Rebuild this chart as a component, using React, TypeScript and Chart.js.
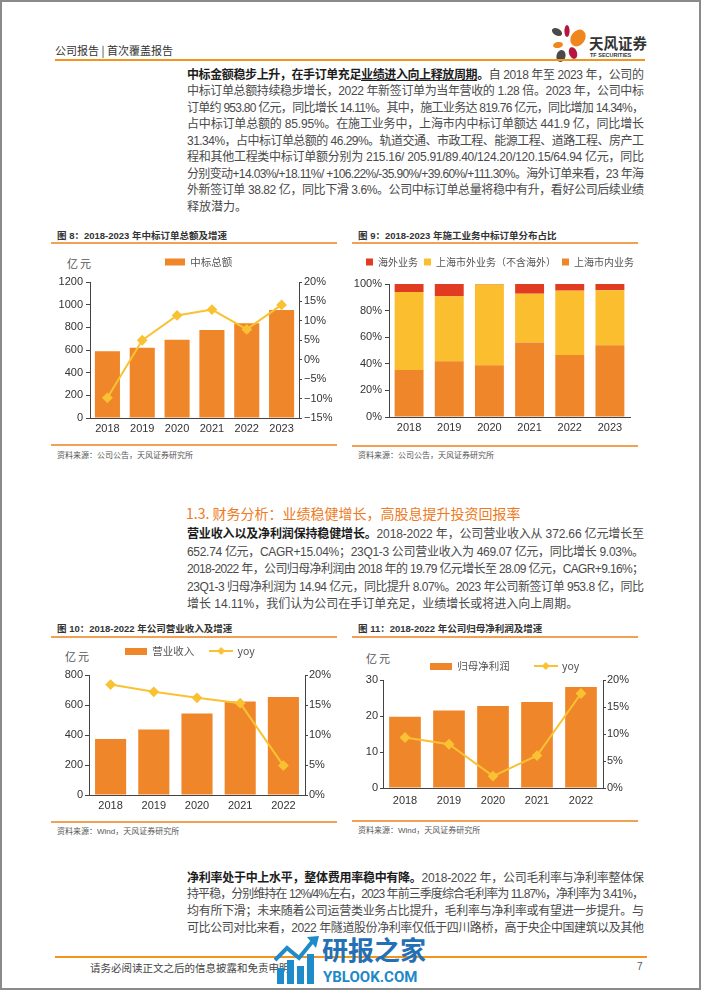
import React, { useEffect, useLayoutEffect, useRef } from 'react';
import { Chart, registerables } from 'chart.js';

Chart.register(...registerables);

// ===== chart data =====
const years6 = ['2018', '2019', '2020', '2021', '2022', '2023'];
const orderTotal = [590, 620, 690, 776, 836, 954];
const orderYoy = [-9.8, 5.0, 11.4, 12.9, 7.8, 14.1];

const innerShare = [35.3, 42.0, 39.0, 56.0, 46.6, 53.9];
const outerShare = [58.7, 48.7, 60.6, 36.7, 48.4, 41.4];
const overseasShare = [6.0, 9.3, 0.4, 7.3, 5.0, 4.7];

const years5 = ['2018', '2019', '2020', '2021', '2022'];
const revenue = [372.66, 437, 543, 624, 652.74];
const revenueYoy = [18.4, 17.2, 16.2, 15.3, 4.9];
const netProfit = [19.79, 21.5, 22.8, 23.9, 28.09];
const netProfitYoy = [9.35, 8.1, 2.2, 6.0, 17.5];

// ===== styles =====
const ORANGE = '#F0862A';
const YELLOW = '#F9C233';
const GOLD = '#FABE2E';
const RED = '#E13C21';
const AXIS = '#444444';
const NUM_FONT = "'Liberation Sans Narrow','Liberation Sans',Arial,sans-serif";
const CJK_FONT = "'Noto Sans CJK SC','Liberation Sans',sans-serif";
const BODY_FONT = "'Liberation Sans Narrow','Liberation Sans','Noto Sans CJK SC',sans-serif";
const TICK_FONT = { family: NUM_FONT, size: 11 };
const LEGEND_FONT = { family: CJK_FONT, size: 10.5 };

const pct = (v: number) => (v < 0 ? '\u2212' + Math.abs(v) : String(v)) + '%';
const plain = (v: number) => String(v);

// plugin: place the legend at a fixed spot without it taking layout space
const legendAt: any = {
  id: 'legendAt',
  beforeLayout(chart: any) {
    const lg = chart.legend;
    if (lg && !lg.__patched) {
      const orig = lg.fit;
      lg.fit = function () {
        orig.call(this);
        this.height = 0;
      };
      lg.__patched = true;
    }
  },
  afterLayout(chart: any, _a: any, opts: any) {
    const lg = chart.legend;
    if (!lg) return;
    const pad = lg.options.labels.padding;
    const fs = opts.fs;
    lg.left = opts.x - pad;
    lg.right = lg.left + 1000;
    lg.width = 1000;
    lg.top = opts.y - pad - fs / 2;
    lg.bottom = lg.top + fs + pad * 2 + 20;
    lg.height = lg.bottom - lg.top;
  },
};

let iconCache: any = null;
function getIcons() {
  if (iconCache) return iconCache;
  const bar = document.createElement('canvas');
  bar.width = 22;
  bar.height = 7;
  const b = bar.getContext('2d') as CanvasRenderingContext2D;
  b.fillStyle = ORANGE;
  b.fillRect(0, 0, 22, 7);
  const line = document.createElement('canvas');
  line.width = 24;
  line.height = 10;
  const l = line.getContext('2d') as CanvasRenderingContext2D;
  l.strokeStyle = YELLOW;
  l.lineWidth = 2;
  l.beginPath();
  l.moveTo(0, 5);
  l.lineTo(24, 5);
  l.stroke();
  l.fillStyle = YELLOW;
  l.beginPath();
  l.moveTo(12, 1);
  l.lineTo(16, 5);
  l.lineTo(12, 9);
  l.lineTo(8, 5);
  l.closePath();
  l.fill();
  iconCache = { bar, line };
  return iconCache;
}

function yAxis(pos: string, min: number, max: number, step: number, width: number, tl: number, pad: number, fmt: any = plain) {
  return {
    position: pos,
    min,
    max,
    ticks: { stepSize: step, color: '#333', font: TICK_FONT, padding: pad, callback: fmt },
    grid: { display: true, drawOnChartArea: false, drawTicks: true, tickLength: tl, color: AXIS, lineWidth: 1 },
    border: { display: true, color: AXIS, width: 1 },
    afterFit: (s: any) => {
      s.width = width;
    },
  };
}

function xAxis(height: number, pad: number, stacked = false) {
  return {
    type: 'category',
    stacked,
    ticks: { color: '#333', font: TICK_FONT, padding: pad, maxRotation: 0, autoSkip: false },
    grid: { display: false, drawTicks: false },
    border: { display: true, color: AXIS, width: 1 },
    afterFit: (s: any) => {
      s.height = height;
    },
  };
}

const baseOpts = (padTop: number, padRight = 0) => ({
  responsive: false,
  animation: false,
  devicePixelRatio: 1,
  layout: { padding: { top: padTop, left: 0, right: padRight, bottom: 0 } },
});

function lineSet(label: string, data: number[]) {
  return {
    type: 'line',
    label,
    data,
    borderColor: YELLOW,
    backgroundColor: YELLOW,
    borderWidth: 2,
    pointStyle: 'rectRot',
    pointRadius: 4,
    pointBackgroundColor: YELLOW,
    pointBorderColor: YELLOW,
    yAxisID: 'y1',
    order: 0,
    tension: 0,
  };
}

const make8 = () => ({
  type: 'bar',
  data: {
    labels: years6,
    datasets: [
      { type: 'bar', label: '中标总额', data: orderTotal, backgroundColor: ORANGE, yAxisID: 'y', order: 1 },
      lineSet('yoy', orderYoy),
    ],
  },
  options: {
    ...baseOpts(34),
    plugins: {
      tooltip: { enabled: false },
      legend: {
        display: true,
        position: 'top',
        align: 'start',
        labels: {
          boxWidth: 20,
          boxHeight: 7,
          padding: 6,
          color: '#555',
          font: LEGEND_FONT,
          filter: (it: any) => it.datasetIndex === 0,
        },
      },
      legendAt: { x: 125, y: 14, fs: 10.5 },
    },
    scales: {
      x: xAxis(24, 4),
      y: yAxis('left', 0, 1200, 200, 50, 4, 3),
      y1: yAxis('right', -15, 20, 5, 41, 3, 2, pct),
    },
  },
  plugins: [legendAt],
});

const make9 = () => ({
  type: 'bar',
  data: {
    labels: years6,
    datasets: [
      { label: '上海市内业务', data: innerShare, backgroundColor: ORANGE },
      { label: '上海市外业务（不含海外）', data: outerShare, backgroundColor: GOLD },
      { label: '海外业务', data: overseasShare, backgroundColor: RED },
    ],
  },
  options: {
    ...baseOpts(36, 10),
    plugins: {
      tooltip: { enabled: false },
      legend: {
        display: true,
        position: 'top',
        align: 'start',
        labels: {
          boxWidth: 7,
          boxHeight: 7,
          padding: 6,
          color: '#555',
          font: { family: CJK_FONT, size: 10 },
          sort: (a: any, b: any) => b.datasetIndex - a.datasetIndex,
        },
      },
      legendAt: { x: 16, y: 14, fs: 10 },
    },
    scales: {
      x: xAxis(25, 4, true),
      y: { ...yAxis('left', 0, 100, 20, 39, 4, 3, (v: number) => v + '%'), stacked: true },
    },
  },
  plugins: [legendAt],
});

function comboMaker(labels: string[], barLabel: string, bars: number[], yoy: number[], o: any) {
  return () => {
    const ic = getIcons();
    return {
      type: 'bar',
      data: {
        labels,
        datasets: [
          { type: 'bar', label: barLabel, data: bars, backgroundColor: ORANGE, yAxisID: 'y', order: 1 },
          lineSet('yoy', yoy),
        ],
      },
      options: {
        ...baseOpts(o.padTop),
        plugins: {
          tooltip: { enabled: false },
          legend: {
            display: true,
            position: 'top',
            align: 'start',
            labels: {
              usePointStyle: true,
              pointStyleWidth: 22,
              padding: o.gap,
              color: '#555',
              font: LEGEND_FONT,
              sort: (a: any, b: any) => a.datasetIndex - b.datasetIndex,
              generateLabels: (chart: any) => {
                const items = (Chart as any).defaults.plugins.legend.labels.generateLabels(chart);
                return items.map((it: any) => ({
                  ...it,
                  pointStyle: it.datasetIndex === 0 ? ic.bar : ic.line,
                  rotation: 0,
                }));
              },
            },
          },
          legendAt: { x: o.lx, y: o.ly, fs: 10.5 },
        },
        scales: {
          x: xAxis(o.xh, o.xpad),
          y: yAxis('left', 0, o.ymax, o.ystep, o.yw, o.ltl, o.lpad),
          y1: yAxis('right', 0, 20, 5, o.y1w, 3, 1, pct),
        },
      },
      plugins: [legendAt],
    };
  };
}

const make10 = comboMaker(years5, '营业收入', revenue, revenueYoy, {
  padTop: 35, gap: 16, lx: 85, ly: 11, xh: 23, xpad: 4, ymax: 800, ystep: 200, yw: 49, ltl: 4, lpad: 2, y1w: 35,
});
const make11 = comboMaker(years5, '归母净利润', netProfit, netProfitYoy, {
  padTop: 35, gap: 25, lx: 80, ly: 21, xh: 27, xpad: 6, ymax: 30, ystep: 10, yw: 33, ltl: 3, lpad: 2, y1w: 37,
});

// ===== components =====
function ChartCanvas({ x, y, w, h, make }: any) {
  const ref = useRef<HTMLCanvasElement>(null);
  useEffect(() => {
    const c = new Chart(ref.current as HTMLCanvasElement, make());
    return () => c.destroy();
  }, []);
  return (
    <canvas ref={ref} width={w} height={h} style={{ position: 'absolute', left: x, top: y, width: w, height: h }} />
  );
}

function Txt({ x, cy, size, lh, color = '#333', weight = 400, family = CJK_FONT, ls, children }: any) {
  const L = lh ?? Math.round(size * 1.4);
  return (
    <div
      style={{
        position: 'absolute',
        left: x,
        top: cy - L / 2,
        height: L,
        lineHeight: L + 'px',
        fontSize: size,
        color,
        fontWeight: weight,
        fontFamily: family,
        whiteSpace: 'nowrap',
        letterSpacing: ls,
      }}
    >
      {children}
    </div>
  );
}

function HLine({ x1, x2, y, c, t = 1 }: any) {
  return <div style={{ position: 'absolute', left: x1, top: y - t / 2, width: x2 - x1, height: t, background: c }} />;
}

function JLine({ x, cy, width, lh, justify, children }: any) {
  const ref = useRef<HTMLSpanElement>(null);
  useLayoutEffect(() => {
    const el = ref.current;
    if (!el) return;
    const fit = () => {
      el.style.letterSpacing = '0px';
      if (!justify) return;
      const w = el.getBoundingClientRect().width;
      const n = Array.from(el.textContent || '').length;
      if (n > 1) el.style.letterSpacing = (width - w) / (n - 1) + 'px';
    };
    fit();
    const f: any = (document as any).fonts;
    if (f && f.ready) f.ready.then(fit);
  }, []);
  return (
    <div
      style={{
        position: 'absolute',
        left: x,
        top: cy - lh / 2,
        height: lh,
        lineHeight: lh + 'px',
        whiteSpace: 'nowrap',
        fontSize: 12,
        fontFamily: BODY_FONT,
        color: '#4a4a4a',
      }}
    >
      <span ref={ref} style={{ display: 'inline-block' }}>
        {children}
      </span>
    </div>
  );
}

function Para({ y0, lh, lines, justifyLast = false }: any) {
  return (
    <>
      {lines.map((c: any, i: number) => (
        <JLine key={i} x={187} cy={y0 + i * lh} width={457} lh={lh} justify={i < lines.length - 1 || justifyLast}>
          {c}
        </JLine>
      ))}
    </>
  );
}

const B = ({ children }: any) => <b style={{ color: '#1c1c1c' }}>{children}</b>;

const para1 = [
  <>
    <B>
      中标金额稳步上升，在手订单充足<u>业绩进入向上释放周期</u>。
    </B>
    自 2018 年至 2023 年，公司的
  </>,
  '中标订单总额持续稳步增长，2022 年新签订单为当年营收的 1.28 倍。2023 年，公司中标',
  '订单约 953.80 亿元，同比增长 14.11%。其中，施工业务达 819.76 亿元，同比增加 14.34%，',
  '占中标订单总额的 85.95%。在施工业务中，上海市内中标订单额达 441.9 亿，同比增长',
  '31.34%，占中标订单总额的 46.29%。轨道交通、市政工程、能源工程、道路工程、房产工',
  '程和其他工程类中标订单额分别为 215.16/ 205.91/89.40/124.20/120.15/64.94 亿元，同比',
  '分别变动+14.03%/+18.11%/ +106.22%/-35.90%/+39.60%/+111.30%。海外订单来看，23 年海',
  '外新签订单 38.82 亿，同比下滑 3.6%。公司中标订单总量将稳中有升，看好公司后续业绩',
  '释放潜力。',
];

const para2 = [
  <>
    <B>营业收入以及净利润保持稳健增长。</B>2018-2022 年，公司营业收入从 372.66 亿元增长至
  </>,
  '652.74 亿元，CAGR+15.04%；23Q1-3 公司营业收入为 469.07 亿元，同比增长 9.03%。',
  '2018-2022 年，公司归母净利润由 2018 年的 19.79 亿元增长至 28.09 亿元，CAGR+9.16%；',
  '23Q1-3 归母净利润为 14.94 亿元，同比提升 8.07%。2023 年公司新签订单 953.8 亿，同比',
  '增长 14.11%，我们认为公司在手订单充足，业绩增长或将进入向上周期。',
];

const para3 = [
  <>
    <B>净利率处于中上水平，整体费用率稳中有降。</B>2018-2022 年，公司毛利率与净利率整体保
  </>,
  '持平稳，分别维持在 12%/4%左右，2023 年前三季度综合毛利率为 11.87%，净利率为 3.41%，',
  '均有所下滑；未来随着公司运营类业务占比提升，毛利率与净利率或有望进一步提升。与',
  '可比公司对比来看，2022 年隧道股份净利率仅低于四川路桥，高于央企中国建筑以及其他',
];

const FRAME_LINE = '#F2A053';

function Figure({ x, title, ty, lineTop, lineBottom, source, sy }: any) {
  return (
    <>
      <Txt x={x + 6} cy={ty} size={9.5} weight={700} color="#333" family={BODY_FONT}>
        {title}
      </Txt>
      <HLine x1={x} x2={x + 286} y={lineTop} c={FRAME_LINE} t={1.5} />
      <HLine x1={x} x2={x + 286} y={lineBottom} c={FRAME_LINE} t={1.5} />
      <Txt x={x + 6} cy={sy} size={8} color="#555" family={BODY_FONT}>
        {source}
      </Txt>
    </>
  );
}

function Logo() {
  return (
    <svg width={44} height={44} style={{ position: 'absolute', left: 548, top: 20 }}>
      <ellipse cx={9} cy={12} rx={5.5} ry={3.5} fill="#4A4A4A" transform="rotate(30 9 12)" />
      <ellipse cx={19} cy={11} rx={2.6} ry={6} fill="#B5173F" />
      <ellipse cx={30} cy={18} rx={7} ry={9} fill="#F0861E" transform="rotate(35 30 18)" />
      <ellipse cx={10} cy={25} rx={5} ry={3} fill="#F0861E" transform="rotate(-10 10 25)" />
      <ellipse cx={25} cy={33} rx={4} ry={6} fill="#B5173F" transform="rotate(-20 25 33)" />
      <ellipse cx={13} cy={36} rx={4.5} ry={6} fill="#4A4A4A" transform="rotate(15 13 36)" />
    </svg>
  );
}

function Watermark() {
  return (
    <>
      <svg width={46} height={50} style={{ position: 'absolute', left: 274, top: 936 }}>
        <rect x={3} y={32} width={7} height={16} fill="#1E8BCB" />
        <rect x={13} y={24} width={7} height={24} fill="#1E8BCB" />
        <rect x={23} y={30} width={7} height={18} fill="#1E8BCB" />
        <rect x={33} y={18} width={7} height={30} fill="#1E8BCB" />
        <polyline points="1,24 13,12 25,22 38,6" stroke="#1E8BCB" strokeWidth={4} fill="none" />
        <polygon points="33,1 45,0 42,12" fill="#1E8BCB" />
      </svg>
      <Txt x={322} cy={949} size={26} lh={32} weight={700} color="#2470B5" family={CJK_FONT}>
        研报之家
      </Txt>
      <Txt x={323} cy={977} size={15} lh={18} weight={700} color="#1E88C8" family="Roboto, 'Liberation Sans', sans-serif">
        YBLOOK.COM
      </Txt>
    </>
  );
}

export default function App() {
  return (
    <div
      style={{
        position: 'absolute',
        left: 0,
        top: 0,
        width: 702,
        height: 991,
        background: '#fff',
        overflow: 'hidden',
        fontFamily: CJK_FONT,
      }}
    >
      {/* page frame */}
      <div
        style={{
          position: 'absolute',
          left: 0,
          top: 0,
          width: 701,
          height: 990,
          border: '2px solid #8a8a8a',
          boxSizing: 'border-box',
        }}
      />

      {/* header */}
      <Txt x={55} cy={50} size={11} color="#333">
        公司报告 | 首次覆盖报告
      </Txt>
      <Logo />
      <Txt x={589} cy={43} size={14.5} weight={700} color="#333">
        天风证券
      </Txt>
      <Txt x={590} cy={55.5} size={5.5} lh={7} weight={700} color="#333" family={NUM_FONT}>
        TF SECURITIES
      </Txt>
      <HLine x1={55} x2={645} y={60} c="#F0961E" t={2} />

      {/* paragraph 1 */}
      <Para y0={75} lh={16.5} lines={para1} />

      {/* figure 8 */}
      <Figure x={51} title="图 8：2018-2023 年中标订单总额及增速" ty={235} lineTop={243} lineBottom={445} source="资料来源：公司公告，天风证券研究所" sy={455} />
      <Txt x={67} cy={263} size={11} color="#555" ls="2px">
        亿元
      </Txt>
      <ChartCanvas x={40} y={248} w={300} h={194} make={make8} />

      {/* figure 9 */}
      <Figure x={352} title="图 9：2018-2023 年施工业务中标订单分布占比" ty={235} lineTop={243} lineBottom={446} source="资料来源：公司公告，天风证券研究所" sy={455} />
      <ChartCanvas x={350} y={248} w={290} h={194} make={make9} />

      {/* section heading + paragraph 2 */}
      <Txt x={186} cy={513} size={14} color="#EE7A22">
        1.3. 财务分析：业绩稳健增长，高股息提升投资回报率
      </Txt>
      <Para y0={535} lh={17.4} lines={para2} />

      {/* figure 10 */}
      <Figure x={51} title="图 10：2018-2022 年公司营业收入及增速" ty={628} lineTop={637} lineBottom={822} source="资料来源：Wind，天风证券研究所" sy={831} />
      <Txt x={65} cy={656} size={11} color="#555" ls="2px">
        亿元
      </Txt>
      <ChartCanvas x={40} y={640} w={300} h={178} make={make10} />

      {/* figure 11 */}
      <Figure x={352} title="图 11：2018-2022 年公司归母净利润及增速" ty={628} lineTop={637} lineBottom={821} source="资料来源：Wind，天风证券研究所" sy={830} />
      <Txt x={366} cy={658} size={11} color="#555" ls="2px">
        亿元
      </Txt>
      <ChartCanvas x={350} y={645} w={290} h={170} make={make11} />

      {/* paragraph 3 */}
      <Para y0={878} lh={16.7} lines={para3} justifyLast />

      {/* footer */}
      <HLine x1={55} x2={647} y={957} c="#F0961E" t={2} />
      <Txt x={90} cy={967} size={10.5} color="#444">
        请务必阅读正文之后的信息披露和免责申明
      </Txt>
      <Txt x={637} cy={967} size={10} color="#555" family={NUM_FONT}>
        7
      </Txt>
      <Watermark />
    </div>
  );
}
